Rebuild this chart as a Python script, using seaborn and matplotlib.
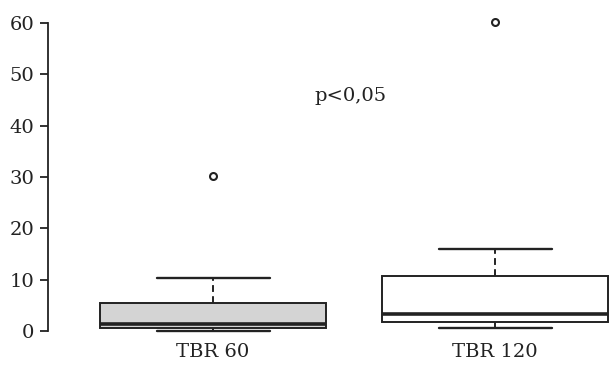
import matplotlib
matplotlib.use("Agg")
import matplotlib.pyplot as plt
import numpy as np
import pandas as pd
import seaborn as sns

# Estimated observations per group (read from the box/whisker/outlier positions)
tbr60 = [0.05, 0.4, 0.65, 1.0, 1.3, 3.0, 5.5, 10.3, 30.2]
tbr120 = [0.65, 1.2, 1.7, 2.5, 3.3, 6.0, 10.7, 16.0, 60.2]
groups = ["TBR 60", "TBR 120"]
box_colors = ["#d4d4d4", "#ffffff"]
yticks = [0, 10, 20, 30, 40, 50, 60]
annotation = "p<0,05"

df = pd.DataFrame({
    "group": [groups[0]] * len(tbr60) + [groups[1]] * len(tbr120),
    "value": tbr60 + tbr120,
})

sns.set_style("ticks")
plt.rcParams["font.family"] = ["DejaVu Serif"]
ink = "#222222"

fig = plt.figure(figsize=(6.11, 3.70), dpi=100)
ax = fig.add_axes([0.0786, 0.0946, 0.9214, 0.857])

# boxes with dashed whiskers, solid caps and open-circle outliers
sns.boxplot(
    data=df, x="group", y="value", hue="group", order=groups,
    palette=box_colors, width=0.8, linecolor=ink, linewidth=1.4,
    whiskerprops=dict(linestyle=(0, (3.5, 2.2)), linewidth=1.4),
    capprops=dict(linewidth=1.7), capwidths=0.4,
    medianprops=dict(linewidth=2.6, color=ink),
    flierprops=dict(marker="o", markerfacecolor="none", markeredgecolor=ink,
                    markersize=5, markeredgewidth=1.5),
    ax=ax, legend=False,
)

ax.set_xlim(-0.585, 1.41)
ax.set_ylim(-0.8, 61)
ax.set_yticks(yticks)
ax.spines["left"].set_bounds(0, 60)
ax.spines["left"].set_color(ink)
ax.spines["left"].set_linewidth(1.3)
for s in ["top", "right", "bottom"]:
    ax.spines[s].set_visible(False)
ax.tick_params(axis="y", length=6, width=1.3, color=ink, labelsize=14,
               labelcolor=ink, pad=4)
ax.tick_params(axis="x", length=0, labelsize=14, labelcolor=ink, pad=6)
ax.set_xlabel("")
ax.set_ylabel("")

ax.text(0.486, 45.8, annotation, ha="center", va="center", fontsize=14,
        color=ink)

fig.savefig("out.png", dpi=100)
